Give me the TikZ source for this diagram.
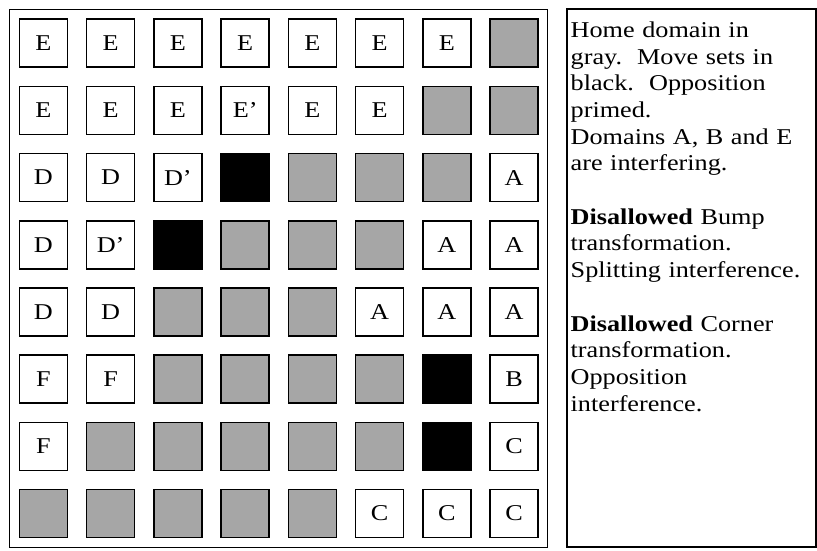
\documentclass[tikz,border=0pt]{standalone}
\usepackage{fontspec}
\setmainfont{Liberation Serif}[FakeStretch=1.16]
\definecolor{homegray}{RGB}{166,166,166}
\begin{document}
\begin{tikzpicture}[x=1pt,y=-1pt,
  basecell/.style={draw,line width=1.6pt,minimum size=48pt,inner sep=0pt,font=\fontsize{22.6}{27}\selectfont},
  homec/.style={basecell,fill=homegray},
  movec/.style={basecell,fill=black},
  labc/.style={basecell,fill=white}]
\useasboundingbox (0,0) rectangle (817,550);
\node (grid) [draw,line width=1pt,minimum width=537.7pt,minimum height=537.7pt,inner sep=0pt] at (278.2,278.2) {};
\node (legend) [draw,line width=2pt,minimum width=249pt,minimum height=537.5pt,inner sep=0pt] at (691,277.8) {};
\foreach \r [count=\j from 0] in {
  {labc/E,labc/E,labc/E,labc/E,labc/E,labc/E,labc/E,homec/{}},
  {labc/E,labc/E,labc/E,labc/E’,labc/E,labc/E,homec/{},homec/{}},
  {labc/D,labc/D,labc/D’,movec/{},homec/{},homec/{},homec/{},labc/A},
  {labc/D,labc/D’,movec/{},homec/{},homec/{},homec/{},labc/A,labc/A},
  {labc/D,labc/D,homec/{},homec/{},homec/{},labc/A,labc/A,labc/A},
  {labc/F,labc/F,homec/{},homec/{},homec/{},homec/{},movec/{},labc/B},
  {labc/F,homec/{},homec/{},homec/{},homec/{},homec/{},movec/{},labc/C},
  {homec/{},homec/{},homec/{},homec/{},homec/{},labc/C,labc/C,labc/C}}{
  \foreach \s/\t [count=\i from 0] in \r {
    \node (c\j\i) [\s] at ({43.4+67.25*\i},{43.2+67.2*\j}) {\t};
  }
}
\node (txt) [anchor=north west,inner sep=0pt,text width=245pt,align=left,
  font=\fontsize{22.6}{26.7}\selectfont] at (570.5,21.5) {Home domain in\\
gray.\ \ Move sets in\\
black.\ \ Opposition\\
primed.\\
Domains A, B and E\\
are interfering.\\[26.7pt]
\textbf{Disallowed} Bump\\
transformation.\\
Splitting interference.\\[26.7pt]
\textbf{Disallowed} Corner\\
transformation.\\
Opposition\\
interference.};
\end{tikzpicture}
\end{document}
